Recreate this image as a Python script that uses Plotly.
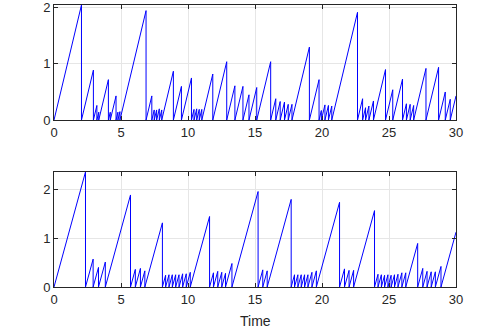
"""Two sawtooth age processes (time since last reset), MATLAB-like styling."""

import plotly.graph_objects as go
from plotly.subplots import make_subplots

T_END = 30.0

# reset times (the signal rises with slope 1 and drops to 0 here)
top_resets = [
    2.05, 2.94, 3.20, 3.34, 4.06, 4.20, 4.63, 4.77, 4.92, 6.87, 7.30, 7.48, 7.66,
    7.86, 8.04, 8.91, 9.51, 10.26, 10.45, 10.65, 10.84, 11.03, 11.85, 12.89,
    13.50, 14.10, 14.55, 15.13, 16.17, 16.55, 16.88, 17.20, 17.48, 17.76, 19.06,
    19.78, 19.95, 20.22, 20.48, 20.73, 22.65, 23.03, 23.25, 23.50, 23.84, 24.74,
    25.28, 26.01, 26.30, 26.58, 26.84, 27.76, 28.70, 29.20, 29.57,
]
bottom_resets = [
    2.35, 2.92, 3.32, 3.83, 5.71, 6.07, 6.45, 6.78, 8.09, 8.33, 8.58, 8.83, 9.08,
    9.33, 9.60, 9.87, 10.17, 11.61, 11.90, 12.22, 12.52, 12.80, 13.28, 15.23,
    15.58, 15.91, 17.70, 17.95, 18.20, 18.45, 18.70, 18.95, 19.25, 19.58, 21.31,
    21.68, 22.02, 22.36, 23.92, 24.18, 24.43, 24.67, 24.92, 25.16, 25.41, 25.67,
    25.96, 26.25, 27.14, 27.52, 27.84, 28.15, 28.46, 28.88,
]
x_ticks = [0, 5, 10, 15, 20, 25, 30]
y_ticks = [0, 1, 2]
FONT = "Liberation Sans, Arial, sans-serif"


def sawtooth(resets, t_end):
    xs, ys = [0.0], [0.0]
    last = 0.0
    for r in resets:
        xs += [r, r]
        ys += [r - last, 0.0]
        last = r
    xs.append(t_end)
    ys.append(t_end - last)
    return xs, ys


fig = make_subplots(rows=2, cols=1, vertical_spacing=0.184)

peaks = []
for row, resets in ((1, top_resets), (2, bottom_resets)):
    xs, ys = sawtooth(resets, T_END)
    peaks.append(max(ys))
    fig.add_trace(
        go.Scatter(x=xs, y=ys, mode="lines", line=dict(color="#0000ff", width=1),
                   showlegend=False, hoverinfo="skip"),
        row=row, col=1,
    )

axis_common = dict(
    showline=True, mirror="ticks", linecolor="#262626", linewidth=1,
    ticks="inside", ticklen=4, tickcolor="#262626",
    showgrid=True, gridcolor="#e6e6e6", gridwidth=1, zeroline=False,
    automargin=False,
    tickfont=dict(family=FONT, size=13, color="#262626"),
)

for row in (1, 2):
    fig.update_xaxes(axis_common, range=[0, T_END], tickvals=x_ticks, row=row, col=1)
    fig.update_yaxes(axis_common, range=[0, peaks[row - 1]], tickvals=y_ticks, row=row, col=1)

fig.add_annotation(
    text="Time", x=0.5, y=-0.121, xref="paper", yref="paper",
    xanchor="center", yanchor="middle", showarrow=False,
    font=dict(family=FONT, size=14, color="#262626"),
)

fig.update_layout(
    width=479, height=329,
    margin=dict(l=54, r=23, t=5, b=42),
    paper_bgcolor="white", plot_bgcolor="white",
)

# the page's default body margin would shift the figure by 8px
fig.write_html(
    "out.html",
    config={"displayModeBar": False},
    post_script="document.body.style.margin='0px';",
)
